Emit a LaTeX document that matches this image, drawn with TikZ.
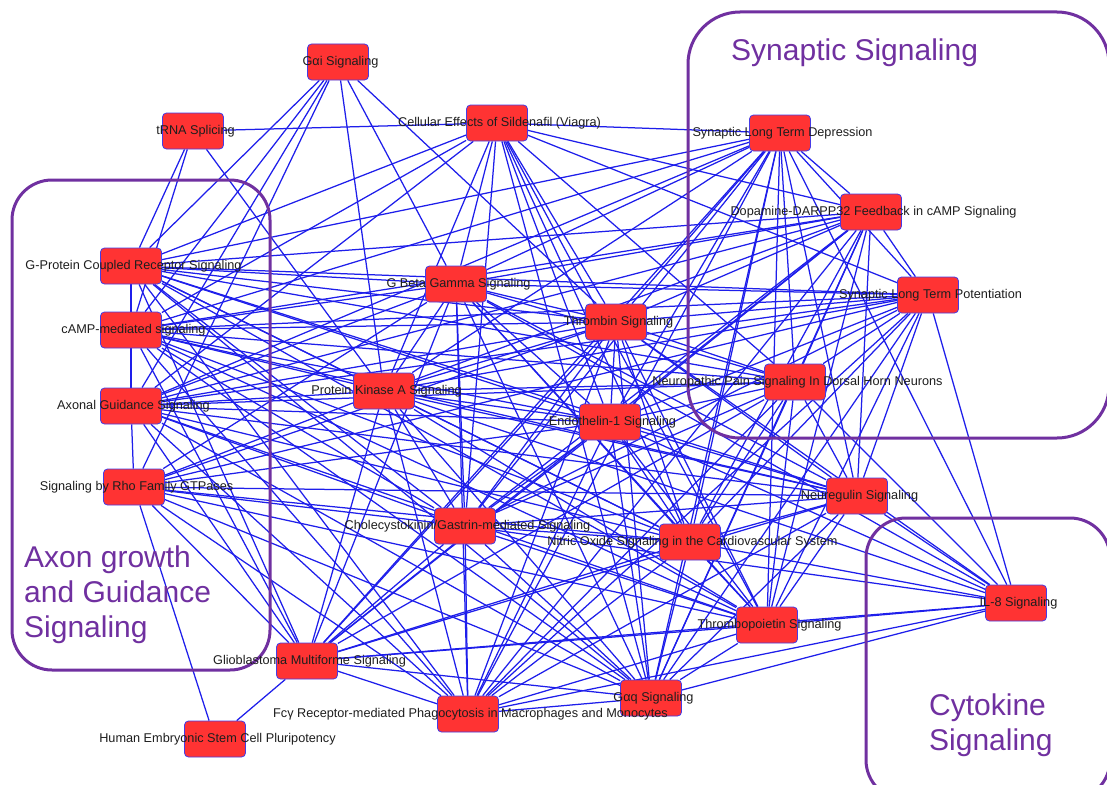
\documentclass[tikz,border=0pt]{standalone}
\usepackage{fontspec}
\setmainfont{Liberation Sans}
\usetikzlibrary{backgrounds}
\definecolor{grp}{RGB}{112,48,160}
\definecolor{nodefill}{RGB}{255,51,51}
\definecolor{nodeline}{RGB}{70,60,230}
\definecolor{edgeblue}{RGB}{30,30,235}
\definecolor{labtext}{RGB}{30,30,30}
\begin{document}
\begin{tikzpicture}[x=1pt,y=-1pt,
  pbox/.style={rectangle, rounded corners=4pt, minimum width=61pt, minimum height=36pt,
    inner sep=0pt, fill=nodefill, draw=nodeline, line width=0.8pt},
  plabel/.style={text=labtext, inner sep=0pt, xshift=2.5pt, font=\fontsize{12.7}{14}\selectfont},
  link/.style={draw=edgeblue, line width=1.25pt},
  group/.style={draw=grp, line width=3pt, rounded corners=#1},
  grouptext/.style={text=grp, inner sep=0pt, anchor=base west, font=\fontsize{30}{35}\selectfont}]

\clip (0,0) rectangle (1107,784);

% pathway groups
\draw[group=40pt] (12,180) rectangle (270,670);
\draw[group=52pt] (688,12) rectangle (1109,438);
\draw[group=40pt] (866,518) rectangle (1110,800);

\node[grouptext] (syn-t)  at (731,60)  {Synaptic Signaling};
\node[grouptext] (axon-t1) at (24,567) {Axon growth};
\node[grouptext] (axon-t2) at (24,602) {and Guidance};
\node[grouptext] (axon-t3) at (24,637) {Signaling};
\node[grouptext] (cyto-t1) at (929,715) {Cytokine};
\node[grouptext] (cyto-t2) at (929,750) {Signaling};

% pathways
\node[pbox] (gai)   at (338,62)  {};
\node[pbox] (trna)  at (193,131) {};
\node[pbox] (sild)  at (497,123) {};
\node[pbox] (ltd)   at (780,133) {};
\node[pbox] (darpp) at (871,212) {};
\node[pbox] (ltp)   at (928,295) {};
\node[pbox] (gpcr)  at (131,266) {};
\node[pbox] (camp)  at (131,330) {};
\node[pbox] (axon)  at (131,406) {};
\node[pbox] (rho)   at (134,487) {};
\node[pbox] (gbg)   at (456,284) {};
\node[pbox] (thr)   at (616,322) {};
\node[pbox] (pka)   at (384,391) {};
\node[pbox] (neur)  at (795,382) {};
\node[pbox] (endo)  at (610,422) {};
\node[pbox] (nrg)   at (857,496) {};
\node[pbox] (cck)   at (465,526) {};
\node[pbox] (no)    at (690,542) {};
\node[pbox] (il8)   at (1016,603) {};
\node[pbox] (tpo)   at (767,625) {};
\node[pbox] (glio)  at (307,661) {};
\node[pbox] (gaq)   at (651,698) {};
\node[pbox] (fcg)   at (468,714) {};
\node[pbox] (hesc)  at (215,739) {};

% shared-molecule links
\begin{pgfonlayer}{background}
\fill[white] (0,0) rectangle (1107,784);
\foreach \a/\b in {
  gpcr/camp, gpcr/gbg, gpcr/pka, gpcr/thr, gpcr/endo, gpcr/neur, gpcr/cck, gpcr/no,
  gpcr/nrg, gpcr/tpo, gpcr/gaq, gpcr/ltd, gpcr/darpp, gpcr/ltp,
  camp/axon, camp/gbg, camp/pka, camp/thr, camp/endo, camp/neur, camp/cck, camp/no,
  camp/nrg, camp/tpo, camp/gaq, camp/ltd, camp/darpp, camp/ltp,
  axon/gbg, axon/pka, axon/thr, axon/endo, axon/neur, axon/cck, axon/no, axon/nrg,
  axon/tpo, axon/gaq, axon/ltd, axon/darpp, axon/ltp,
  gbg/pka, gbg/thr, gbg/endo, gbg/neur, gbg/cck, gbg/no, gbg/nrg, gbg/tpo, gbg/gaq,
  gbg/ltd, gbg/darpp, gbg/ltp,
  pka/thr, pka/endo, pka/neur, pka/cck, pka/no, pka/nrg, pka/tpo, pka/gaq, pka/ltd,
  pka/darpp, pka/ltp,
  thr/endo, thr/neur, thr/cck, thr/no, thr/nrg, thr/tpo, thr/gaq, thr/ltd, thr/darpp, thr/ltp,
  endo/neur, endo/cck, endo/no, endo/nrg, endo/tpo, endo/gaq, endo/ltd, endo/darpp, endo/ltp,
  neur/cck, neur/no, neur/nrg, neur/tpo, neur/gaq, neur/ltd, neur/darpp, neur/ltp,
  cck/no, cck/nrg, cck/tpo, cck/gaq, cck/ltd, cck/darpp, cck/ltp,
  no/nrg, no/tpo, no/gaq, no/ltd, no/darpp, no/ltp,
  nrg/tpo, nrg/gaq, nrg/ltd, nrg/darpp, nrg/ltp,
  tpo/gaq, tpo/ltd, tpo/darpp, tpo/ltp,
  gaq/ltd, gaq/darpp, gaq/ltp,
  ltd/darpp, ltd/ltp, darpp/ltp,
  rho/axon, rho/hesc, rho/glio, rho/gai, rho/gbg, rho/pka, rho/thr, rho/endo, rho/cck,
  rho/no, rho/nrg, rho/tpo, rho/gaq, rho/fcg, rho/ltp,
  glio/hesc, glio/axon, glio/gpcr, glio/camp, glio/pka, glio/gbg, glio/thr, glio/endo,
  glio/neur, glio/cck, glio/no, glio/nrg, glio/tpo, glio/gaq, glio/fcg, glio/il8,
  glio/ltd, glio/darpp,
  fcg/cck, fcg/pka, fcg/gbg, fcg/thr, fcg/endo, fcg/no, fcg/neur, fcg/nrg, fcg/tpo,
  fcg/gaq, fcg/il8, fcg/axon, fcg/camp, fcg/gpcr, fcg/ltd, fcg/darpp, fcg/ltp,
  sild/trna, sild/ltd, sild/darpp, sild/ltp, sild/gpcr, sild/camp, sild/axon, sild/gbg,
  sild/pka, sild/thr, sild/endo, sild/no, sild/cck, sild/neur, sild/gaq, sild/tpo,
  gai/gpcr, gai/camp, gai/axon, gai/pka, gai/gbg, gai/thr,
  trna/gpcr, trna/camp, trna/pka,
  il8/ltd, il8/ltp, il8/neur, il8/nrg, il8/thr, il8/endo, il8/gbg, il8/pka, il8/no,
  il8/cck, il8/tpo, il8/gaq}
  \draw[link] (\a) -- (\b);
\end{pgfonlayer}

% pathway names
\node[plabel] (gai-l)   at (gai)   {Gαi Signaling};
\node[plabel] (trna-l)  at (trna)  {tRNA Splicing};
\node[plabel] (sild-l)  at (sild)  {Cellular Effects of Sildenafil (Viagra)};
\node[plabel] (ltd-l)   at (ltd)   {Synaptic Long Term Depression};
\node[plabel] (darpp-l) at (darpp) {Dopamine-DARPP32 Feedback in cAMP Signaling};
\node[plabel] (ltp-l)   at (ltp)   {Synaptic Long Term Potentiation};
\node[plabel] (gpcr-l)  at (gpcr)  {G-Protein Coupled Receptor Signaling};
\node[plabel] (camp-l)  at (camp)  {cAMP-mediated signaling};
\node[plabel] (axon-l)  at (axon)  {Axonal Guidance Signaling};
\node[plabel] (rho-l)   at (rho)   {Signaling by Rho Family GTPases};
\node[plabel] (gbg-l)   at (gbg)   {G Beta Gamma Signaling};
\node[plabel] (thr-l)   at (thr)   {Thrombin Signaling};
\node[plabel] (pka-l)   at (pka)   {Protein Kinase A Signaling};
\node[plabel] (neur-l)  at (neur)  {Neuropathic Pain Signaling In Dorsal Horn Neurons};
\node[plabel] (endo-l)  at (endo)  {Endothelin-1 Signaling};
\node[plabel] (nrg-l)   at (nrg)   {Neuregulin Signaling};
\node[plabel] (cck-l)   at (cck)   {Cholecystokinin/Gastrin-mediated Signaling};
\node[plabel] (no-l)    at (no)    {Nitric Oxide Signaling in the Cardiovascular System};
\node[plabel] (il8-l)   at (il8)   {IL-8 Signaling};
\node[plabel] (tpo-l)   at (tpo)   {Thrombopoietin Signaling};
\node[plabel] (glio-l)  at (glio)  {Glioblastoma Multiforme Signaling};
\node[plabel] (gaq-l)   at (gaq)   {Gαq Signaling};
\node[plabel] (fcg-l)   at (fcg)   {Fcγ Receptor-mediated Phagocytosis in Macrophages and Monocytes};
\node[plabel] (hesc-l)  at (hesc)  {Human Embryonic Stem Cell Pluripotency};
\end{tikzpicture}
\end{document}
